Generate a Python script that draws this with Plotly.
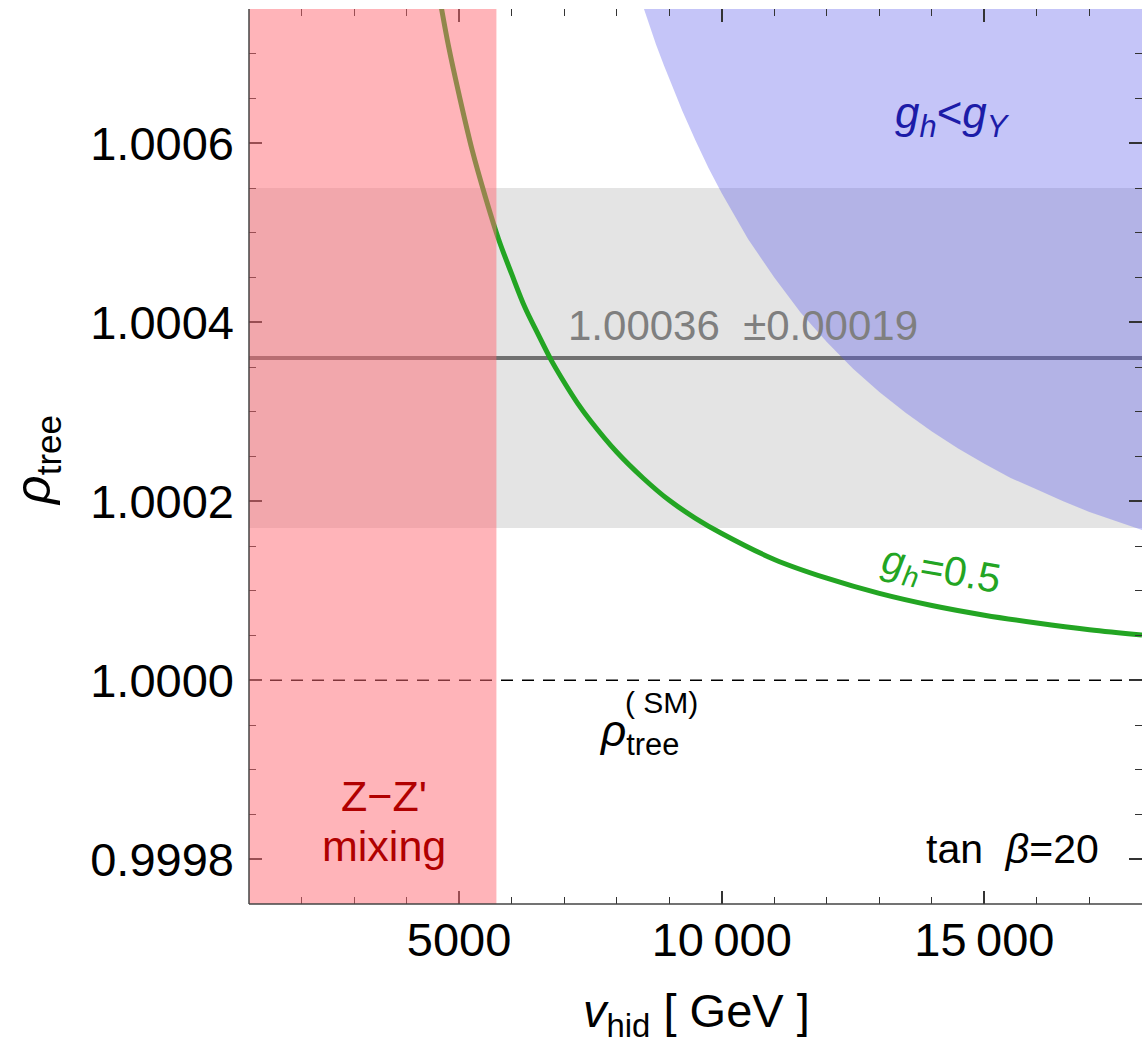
import plotly.graph_objects as go

# ---------------- data ----------------
v_range = [1000, 18000]
rho_range = [0.99975, 1.00075]

mixing_bound = 5710          # Z-Z' mixing excluded below this v_hid
rho_exp = 1.00036            # measured value
rho_err = 0.00019            # uncertainty
rho_sm = 1.0                 # SM tree-level value

# g_h = 0.5 curve
green_v = [4600, 4800, 5000, 5250, 5500, 5750, 6000, 6250, 6500, 6750, 7000, 7250,
           7500, 8000, 8500, 9000, 9500, 10000, 11000, 12000, 13000, 14000, 15000,
           16000, 17000, 18000]
green_rho = [1.000772, 1.000708, 1.000654, 1.000592, 1.000540, 1.000493, 1.000454,
             1.000417, 1.000387, 1.000358, 1.000333, 1.000310, 1.000290, 1.000255,
             1.000226, 1.000201, 1.000181, 1.000164, 1.000135, 1.000114, 1.000097,
             1.0000835, 1.0000727, 1.0000640, 1.0000565, 1.0000505]

# g_h < g_Y region boundary
blue_v = [8450, 8600, 8750, 8900, 9000, 9250, 9500, 9750, 10000, 10500, 11000,
          11500, 12000, 12500, 13000, 13500, 14000, 14500, 15000, 15500, 16000,
          16500, 17000, 17500, 18000]
blue_rho = [1.000762, 1.000736, 1.000710, 1.000687, 1.000672, 1.000636, 1.000603,
            1.000572, 1.000544, 1.000493, 1.000450, 1.000411, 1.000378, 1.000348,
            1.000322, 1.000299, 1.000278, 1.000259, 1.000242, 1.000226, 1.000213,
            1.000200, 1.000188, 1.000178, 1.000168]

x_tick_vals = [5000, 10000, 15000]
x_tick_text = ["5000", "10\u2009000", "15\u2009000"]
y_tick_vals = [0.9998, 1.0000, 1.0002, 1.0004, 1.0006]
y_tick_text = ["0.9998", "1.0000", "1.0002", "1.0004", "1.0006"]

# ---------------- figure ----------------
FONT = "Liberation Sans, Arial, Helvetica, sans-serif"
fig = go.Figure()

# central measured value line
fig.add_trace(go.Scatter(x=v_range, y=[rho_exp, rho_exp], mode="lines",
                         line=dict(color="rgb(112,112,112)", width=4),
                         hoverinfo="skip"))
# g_h = 0.5 curve
fig.add_trace(go.Scatter(x=green_v, y=green_rho, mode="lines",
                         line=dict(color="rgb(35,165,35)", width=5,
                                   shape="spline", smoothing=1.0),
                         hoverinfo="skip"))
# g_h < g_Y region
top = rho_range[1] + 0.0001
fig.add_trace(go.Scatter(x=blue_v + [blue_v[-1], blue_v[0]],
                         y=blue_rho + [top, top],
                         mode="lines", fill="toself",
                         fillcolor="rgba(90,90,235,0.35)",
                         line=dict(width=0, color="rgba(0,0,0,0)"),
                         hoverinfo="skip"))

shapes = [
    # 1-sigma band
    dict(type="rect", xref="paper", x0=0, x1=1, yref="y",
         y0=rho_exp - rho_err, y1=rho_exp + rho_err,
         fillcolor="rgba(128,128,128,0.21)", line=dict(width=0), layer="below"),
    # SM dashed line
    dict(type="line", xref="paper", x0=0, x1=1, yref="y", y0=rho_sm, y1=rho_sm,
         line=dict(color="black", width=1.5, dash="12px,9px"), layer="below"),
    # Z-Z' mixing excluded band
    dict(type="rect", xref="x", x0=v_range[0], x1=mixing_bound, yref="paper",
         y0=0, y1=1, fillcolor="rgba(255,105,115,0.5)", line=dict(width=0),
         layer="above"),
    # left and bottom frame lines
    dict(type="line", xref="paper", x0=0, x1=0, yref="paper", y0=0, y1=1,
         line=dict(color="#444", width=1.5), layer="above"),
    dict(type="line", xref="paper", x0=0, x1=1, yref="paper", y0=0, y1=0,
         line=dict(color="#444", width=1.5), layer="above"),
]

annotations = [
    dict(x=14400, y=1.00063, text="<i>g<sub>h</sub></i>&lt;<i>g<sub>Y</sub></i>",
         font=dict(size=44, color="#1c1ca8", family=FONT)),
    dict(x=10400, y=1.000396, text="1.00036  ±0.00019",
         font=dict(size=42, color="#7f7f7f", family=FONT)),
    dict(x=14170, y=1.000121, text="<i>g<sub>h</sub></i>=0.5", textangle=10,
         font=dict(size=41, color="rgb(35,165,35)", family=FONT)),
    dict(x=8420, y=0.99994, text="<i>ρ</i><sub>tree</sub>",
         font=dict(size=44, color="black", family=FONT)),
    dict(x=8860, y=0.999975, text="( SM)",
         font=dict(size=30, color="black", family=FONT)),
    dict(x=3570, y=0.999871, text="Z\u2212Z'",
         font=dict(size=43, color="#b00000", family=FONT)),
    dict(x=3570, y=0.999815, text="mixing",
         font=dict(size=43, color="#b00000", family=FONT)),
    dict(x=15540, y=0.999811, text="tan  <i>β</i>=20",
         font=dict(size=41, color="black", family=FONT)),
    # axis titles
    dict(xref="paper", yref="paper", x=-0.2374, y=0.495, textangle=-90,
         text="<i>ρ</i><sub>tree</sub>", font=dict(size=50, color="black", family=FONT)),
    dict(xref="paper", yref="paper", x=0.5006, y=-0.1229,
         text="<i>v</i><sub>hid</sub> [ GeV ]", font=dict(size=47, color="black", family=FONT)),
]
for a in annotations:
    a.setdefault("showarrow", False)
    a.setdefault("xanchor", "center")
    a.setdefault("yanchor", "middle")

tick_common = dict(ticks="inside", ticklen=13, tickwidth=1.5, tickcolor="#333",
                   showgrid=False, zeroline=False, showline=False, mirror="ticks",
                   tickfont=dict(size=47, family=FONT, color="black"))

fig.update_layout(
    width=1144, height=1058,
    margin=dict(l=249, r=2, t=9, b=154),
    plot_bgcolor="white", paper_bgcolor="white",
    showlegend=False,
    font=dict(family=FONT, color="black"),
    shapes=shapes, annotations=annotations,
    xaxis=dict(range=v_range, tickmode="array", tickvals=x_tick_vals,
               ticktext=x_tick_text, ticklabelstandoff=4,
               minor=dict(ticks="inside", ticklen=7, tickwidth=1.2, tickcolor="#333",
                          tickmode="linear", tick0=0, dtick=1000, showgrid=False),
               **tick_common),
    yaxis=dict(range=rho_range, tickmode="array", tickvals=y_tick_vals,
               ticktext=y_tick_text, ticklabelstandoff=14,
               minor=dict(ticks="inside", ticklen=7, tickwidth=1.2, tickcolor="#333",
                          tickmode="linear", tick0=1.0, dtick=0.00005, showgrid=False),
               **tick_common),
)

fig.write_html("out.html", config={"displayModeBar": False},
               post_script="document.body.style.margin='0';")
